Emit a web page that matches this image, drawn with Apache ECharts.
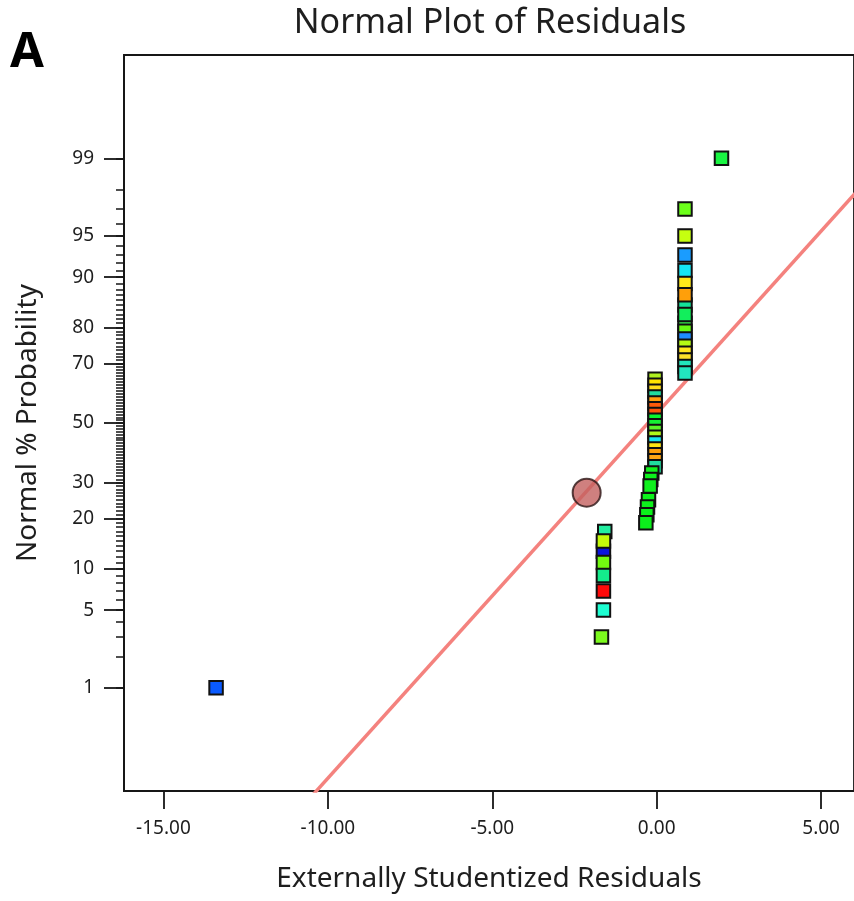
<!DOCTYPE html>
<html>
<head>
<meta charset="utf-8">
<title>Normal Plot of Residuals</title>
<script src="https://cdn.jsdelivr.net/npm/echarts@6/dist/echarts.min.js"></script>
<style>
  html, body { margin: 0; padding: 0; background: #ffffff; }
  #chart { width: 854px; height: 901px; }
</style>
</head>
<body>
<div id="chart"></div>
<script>
// Externally studentized residuals, listed in plotting order (later points sit on top)
const residuals = [
  1.97,
  0.86, 0.86, 0.86, 0.86, 0.86, 0.86, 0.86, 0.86, 0.86, 0.86, 0.86, 0.86, 0.86, 0.86, 0.86, 0.86,
  -0.05, -0.05, -0.05, -0.05, -0.05, -0.05, -0.05, -0.05, -0.05, -0.05, -0.05, -0.05, -0.05, -0.05, -0.05, -0.05,
  -0.15, -0.18, -0.20, -0.25, -0.28, -0.30, -0.33,
  -1.58, -1.62, -1.62, -1.62, -1.62, -1.62, -1.62, -1.68,
  -13.40
];
// Normal % probability of each residual (same order)
const probability = [
  99,
  97, 95, 93, 91, 89, 85, 87, 81, 83, 79, 77, 75, 73, 71, 69, 67,
  65, 63, 61, 59, 57, 55, 53, 51, 49, 47, 45, 43, 41, 39, 37, 35,
  33, 31, 29, 25, 23, 21, 19,
  17, 13, 15, 11, 9, 7, 5, 3,
  1
];
// Colour of each run's marker (same order)
const pointColors = [
  '#19f542',
  '#6cff1a', '#c6ff10', '#1a9cff', '#14e6f5', '#ffe81a', '#14e39a', '#ff9f0a', '#34f04a',
  '#12ee5c', '#66fa14', '#1e8cff', '#b4fa14', '#ffe61e', '#fde02a', '#22e6bc', '#22e6c0',
  '#b0f020', '#ffe400', '#ffde1a', '#20dca0', '#ffa010', '#ff5a0a', '#ff520a', '#08f52e',
  '#14f032', '#5af528', '#b0fa1a', '#18e6f0', '#ffe614', '#ffa00a', '#ffa614', '#20dca0',
  '#12f21e', '#0cf21c', '#10f01e', '#0cf21a', '#0ef01c', '#0af21a', '#0cf01c',
  '#22eea0', '#0a14dc', '#c4fa0a', '#72fa10', '#14ec8c', '#ff0a0a', '#1effd2', '#7cfa1e',
  '#0a5aff'
];
// Highlighted run
const selectedResidual = [-2.13];
const selectedProbability = [27];
// Reference line through the residuals, given by two far-off anchor points
const lineResiduals = [-11.86, 11.34];
const lineProbability = [0.01, 99.99];

// Axis ticks
const xTicks = [-15, -10, -5, 0, 5];
const yTickLabels = [1, 5, 10, 20, 30, 50, 70, 80, 90, 95, 99];

// Inverse of the standard normal CDF (Acklam's rational approximation)
function probit(p) {
  const a = [-3.969683028665376e+01, 2.209460984245205e+02, -2.759285104469687e+02, 1.383577518672690e+02, -3.066479806614716e+01, 2.506628277459239e+00];
  const b = [-5.447609879822406e+01, 1.615858368580409e+02, -1.556989798598866e+02, 6.680131188771972e+01, -1.328068155288572e+01];
  const c = [-7.784894002430293e-03, -3.223964580411365e-01, -2.400758277161838e+00, -2.549671324504310e+00, 4.374664141464968e+00, 2.938163982698783e+00];
  const d = [7.784695709041462e-03, 3.224671290700398e-01, 2.445134137142996e+00, 3.754408661907416e+00];
  const pl = 0.02425, ph = 1 - pl;
  let q, r;
  if (p < pl) {
    q = Math.sqrt(-2 * Math.log(p));
    return (((((c[0]*q + c[1])*q + c[2])*q + c[3])*q + c[4])*q + c[5]) / ((((d[0]*q + d[1])*q + d[2])*q + d[3])*q + 1);
  }
  if (p <= ph) {
    q = p - 0.5; r = q * q;
    return (((((a[0]*r + a[1])*r + a[2])*r + a[3])*r + a[4])*r + a[5])*q / (((((b[0]*r + b[1])*r + b[2])*r + b[3])*r + b[4])*r + 1);
  }
  q = Math.sqrt(-2 * Math.log(1 - p));
  return -(((((c[0]*q + c[1])*q + c[2])*q + c[3])*q + c[4])*q + c[5]) / ((((d[0]*q + d[1])*q + d[2])*q + d[3])*q + 1);
}
const toZ = pct => probit(pct / 100);

// Probability axis: major ticks with labels, minor ticks at every whole percent
const majorZ = yTickLabels.map(toZ);
const labelByZ = {};
yTickLabels.forEach((p, i) => { labelByZ[majorZ[i].toFixed(6)] = String(p); });
const minorZ = [];
for (let p = 1; p <= 99; p++) minorZ.push(toZ(p));

const zRange = 3.235;
const fontFamily = '"Noto Sans", "Open Sans", sans-serif';
const ink = '#161616';

const pointData = residuals.map((x, i) => ({
  value: [x, toZ(probability[i])],
  itemStyle: { color: pointColors[i] }
}));
const selectedData = selectedResidual.map((x, i) => [x, toZ(selectedProbability[i])]);
const lineData = lineResiduals.map((x, i) => [x, toZ(lineProbability[i])]);

const chart = echarts.init(document.getElementById('chart'), null, { renderer: 'canvas' });
chart.setOption({
  backgroundColor: '#ffffff',
  animation: false,
  graphic: [
    {
      type: 'text', x: 490, y: 23,
      style: {
        text: 'Normal Plot of Residuals', fill: '#1e1e1e',
        font: '34px ' + fontFamily,
        textAlign: 'center', textVerticalAlign: 'middle', align: 'center', verticalAlign: 'middle'
      }
    },
    {
      type: 'text', x: 10, y: 53,
      style: {
        text: 'A', fill: '#000',
        font: 'bold 49px ' + fontFamily,
        textAlign: 'left', textVerticalAlign: 'middle', align: 'left', verticalAlign: 'middle'
      }
    }
  ],
  grid: {
    left: 124, top: 55, right: -2, bottom: 110,
    show: true, borderColor: ink, borderWidth: 1.8, backgroundColor: 'transparent'
  },
  xAxis: {
    type: 'value', min: -16.2, max: 6.0,
    name: 'Externally Studentized Residuals',
    nameLocation: 'middle', nameGap: 74,
    nameTextStyle: { fontFamily, fontSize: 28, color: '#1e1e1e' },
    axisLine: { show: true, onZero: false, lineStyle: { color: ink, width: 1.8 } },
    axisTick: { show: true, customValues: xTicks, length: 18, lineStyle: { color: ink, width: 1.8 } },
    axisLabel: {
      customValues: xTicks, margin: 28, fontFamily, fontSize: 19, color: '#1e1e1e',
      formatter: v => v.toFixed(2)
    },
    splitLine: { show: false }
  },
  yAxis: [
    {
      type: 'value', min: -zRange, max: zRange, position: 'left',
      name: 'Normal % Probability',
      nameLocation: 'middle', nameGap: 82, nameRotate: 90,
      nameTextStyle: { fontFamily, fontSize: 28, color: '#1e1e1e' },
      axisLine: { show: true, onZero: false, lineStyle: { color: ink, width: 1.8 } },
      axisTick: { show: true, customValues: majorZ, length: 20, lineStyle: { color: ink, width: 1.8 } },
      axisLabel: {
        customValues: majorZ, margin: 30, fontFamily, fontSize: 19, color: '#1e1e1e',
        formatter: v => labelByZ[v.toFixed(6)] || ''
      },
      splitLine: { show: false }
    },
    {
      type: 'value', min: -zRange, max: zRange, position: 'left', offset: 0,
      axisLine: { show: false, onZero: false },
      axisTick: { show: true, customValues: minorZ, length: 8, lineStyle: { color: ink, width: 1.5 } },
      axisLabel: { show: false },
      splitLine: { show: false }
    }
  ],
  series: [
    {
      type: 'line', data: lineData, yAxisIndex: 0,
      showSymbol: false, symbol: 'none', clip: true,
      lineStyle: { color: '#f4827e', width: 3.5 },
      z: 1, silent: true
    },
    {
      type: 'scatter', data: pointData, yAxisIndex: 0,
      symbol: 'rect', symbolSize: 13.5,
      itemStyle: { borderColor: '#111', borderWidth: 2, opacity: 1 },
      z: 3, silent: true
    },
    {
      type: 'scatter', data: selectedData, yAxisIndex: 0,
      symbol: 'circle', symbolSize: 28,
      itemStyle: { color: '#c3605f', borderColor: '#2a1414', borderWidth: 2 },
      z: 4, silent: true
    }
  ]
});
</script>
</body>
</html>
